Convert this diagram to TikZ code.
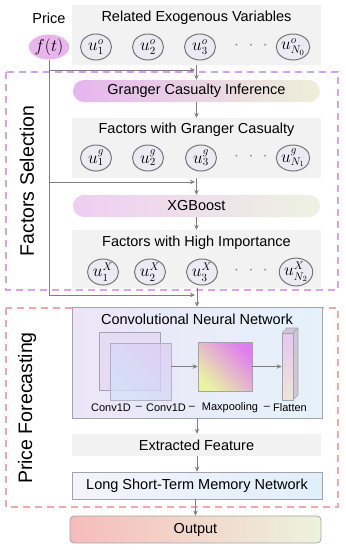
\documentclass[tikz,border=0pt]{standalone}
\usepackage{fontspec}
\setmainfont{Liberation Sans}
\usetikzlibrary{arrows.meta,shapes.geometric}
\definecolor{arrgray}{HTML}{7F7F7F}
\definecolor{boxgray}{HTML}{F2F2F2}
\definecolor{circfill}{HTML}{ECEBF3}
\definecolor{circline}{HTML}{767676}
\definecolor{selviolet}{HTML}{D9A2EC}
\definecolor{forered}{HTML}{EFA9A9}
\definecolor{ftpink}{HTML}{E8B6EC}
\definecolor{gcl}{HTML}{E6B5EF}
\definecolor{gcm}{HTML}{F3E4F2}
\definecolor{gcr}{HTML}{EDF0D9}
\definecolor{xgl}{HTML}{EFCDF2}
\definecolor{xgm}{HTML}{F4EAF3}
\definecolor{xgr}{HTML}{EEF2E2}
\definecolor{outl}{HTML}{F6BCBC}
\definecolor{outr}{HTML}{EDF3DD}
\definecolor{edgegray}{HTML}{A3A3AB}
\definecolor{cnnl}{HTML}{ECE5F8}
\definecolor{cnnr}{HTML}{E5F2FA}
\definecolor{lstml}{HTML}{F5F3FB}
\definecolor{lstmr}{HTML}{E0EFFA}
\definecolor{convA}{HTML}{E4D8F5}
\definecolor{convB}{HTML}{DDCDF4}
\definecolor{convC}{HTML}{CFE2F8}
\definecolor{mpA}{HTML}{E07EF0}
\definecolor{mpB}{HTML}{E9F4A2}
\definecolor{flA}{HTML}{E9C6F2}
\definecolor{flB}{HTML}{ECE6D6}
\definecolor{flS}{HTML}{CFC6D6}
\begin{document}
\begin{tikzpicture}[x=1pt,y=-1pt,
  font=\fontsize{14.5}{16}\selectfont,
  arr/.style={draw=arrgray, line width=0.8pt, -{Stealth[length=5pt,width=4.5pt]}},
  ln/.style={draw=arrgray, line width=0.8pt},
  graybox/.style={fill=boxgray, draw=none, minimum width=249pt, minimum height=#1, inner sep=0pt},
  uc/.style={ellipse, fill=circfill, draw=circline, line width=1pt, minimum width=31pt, minimum height=26pt, inner sep=0pt, font=\fontsize{16}{18}\selectfont},
  dotsn/.style={text=gray, font=\fontsize{16}{18}\selectfont},
  pill/.style={rounded corners=11pt, minimum width=247pt, minimum height=22pt, inner sep=0pt},
  sect/.style={dash pattern=on 7pt off 5pt, line width=1.3pt},
  small/.style={font=\fontsize{11}{12}\selectfont},
  sq/.style={draw=edgegray, line width=0.7pt, inner sep=0pt},
]
\useasboundingbox (0,0) rectangle (346,550);

% section frames
\draw[sect, draw=selviolet] (6,72) rectangle (338,290);
\draw[sect, draw=forered] (6,308) rectangle (338,507);
\node[rotate=90, font=\fontsize{19.5}{21}\selectfont] (fs) at (27,181) {Factors Selection};
\node[rotate=90, font=\fontsize{19.5}{21}\selectfont] (pf) at (27,408) {Price Forecasting};

% price
\node (price) at (49,18) {Price};
\node[ellipse, fill=ftpink, minimum width=31pt, minimum height=25pt, inner sep=0pt, font=\fontsize{16}{18}\selectfont] (f) at (49,47) {$f(t)$};

% exogenous
\node[graybox=60pt] (exo) at (196.5,35) {};
\node (exot) at (196.5,18) {Related Exogenous Variables};
\node[uc] (o1) at (96,47) {$u^{o}_{1}$};
\node[uc] (o2) at (148,47) {$u^{o}_{2}$};
\node[uc] (o3) at (200,47) {$u^{o}_{3}$};
\node[dotsn] (od) at (251,46) {$\cdot\,\,\cdot\,\,\cdot$};
\node[uc] (oN) at (293,47) {$u^{o}_{N_0}$};

% granger
\node[pill, left color=gcl, middle color=gcm, right color=gcr] (gci) at (196.5,91) {Granger Casualty Inference};

\node[graybox=60pt] (fg) at (196.5,148) {};
\node (fgt) at (196.5,130) {Factors with Granger Casualty};
\node[uc] (g1) at (96,158) {$u^{g}_{1}$};
\node[uc] (g2) at (148,158) {$u^{g}_{2}$};
\node[uc] (g3) at (201,158) {$u^{g}_{3}$};
\node[dotsn] (gd) at (251,157) {$\cdot\,\,\cdot\,\,\cdot$};
\node[uc] (gN) at (293,158) {$u^{g}_{N_1}$};

% xgboost
\node[pill, left color=xgl, middle color=xgm, right color=xgr] (xgb) at (196.5,206) {XGBoost};

\node[graybox=58pt] (fh) at (196.5,259) {};
\node (fht) at (196.5,243) {Factors with High Importance};
\node[uc] (x1) at (103,272) {$u^{X}_{1}$};
\node[uc] (x2) at (150,272) {$u^{X}_{2}$};
\node[uc] (x3) at (202,272) {$u^{X}_{3}$};
\node[dotsn] (xd) at (251,271) {$\cdot\,\,\cdot\,\,\cdot$};
\node[uc] (xN) at (296,272) {$u^{X}_{N_2}$};

% CNN
\node[draw=edgegray, line width=0.7pt, left color=cnnl, right color=cnnr, minimum width=250pt, minimum height=111pt, inner sep=0pt] (cnn) at (197,362.5) {};
\node (cnnt) at (197,319) {Convolutional Neural Network};
\node[sq, fill=convA, fill opacity=0.8, minimum width=61pt, minimum height=58pt] (c1) at (129.5,361) {};
\node[sq, top color=convB, bottom color=convC, shading angle=-45, opacity=0.75, minimum width=61pt, minimum height=57pt] (c2) at (140.5,371.5) {};
\node[sq, top color=mpA, bottom color=mpB, shading angle=-45, minimum width=54pt, minimum height=49pt] (mp) at (225,366.5) {};
% flatten prism
\fill[flS] (282,333) -- (287,328) -- (298,328) -- (298,395) -- (293,400) -- cycle;
\draw[edgegray, line width=0.6pt] (282,333) -- (287,328) -- (298,328) -- (298,395) -- (293,400);
\draw[edgegray, line width=0.6pt] (293,333) -- (298,328);
\node[sq, top color=flA, bottom color=flB, minimum width=11pt, minimum height=67pt] (fl) at (287.5,366.5) {};
\draw[arr] (c2.east |- mp.west) -- (mp.west);
\draw[arr] (mp.east) -- (fl.west |- mp.east);

\node[small] (l1) at (111,408) {Conv1D};
\node[small] (d1) at (139,408) {–};
\node[small] (l2) at (166,408) {Conv1D};
\node[small] (d2) at (192,408) {–};
\node[small] (l3) at (230,408) {Maxpooling};
\node[small] (d3) at (267,408) {–};
\node[small] (l4) at (290,408) {Flatten};

% extracted & LSTM & output
\node[graybox=22pt] (ef) at (196.5,445) {Extracted Feature};
\node[draw=edgegray, line width=0.7pt, left color=lstml, right color=lstmr, minimum width=250pt, minimum height=27pt, inner sep=0pt] (lstm) at (197,485.5) {Long Short-Term Memory Network};
\node[draw=edgegray, line width=0.8pt, rounded corners=4pt, left color=outl, right color=outr, minimum width=251pt, minimum height=27pt, inner sep=0pt] (out) at (195.5,529.5) {Output};

% connectors
\coordinate (b1) at (49,70);
\coordinate (b2) at (49,182);
\coordinate (b3) at (49,295);
\coordinate (e1) at (195,70);
\coordinate (e2) at (195,182);
\coordinate (e3) at (195,295);
\draw[ln] (f.south) -- (b3);
\draw[arr] (b1) -- (e1);
\draw[arr] (b2) -- (e2);
\draw[arr] (b3) -- (e3);
\draw[arr] (exo.south -| gci.north) -- (gci.north);
\draw[arr] (gci.south) -- (gci.south |- fg.north);
\draw[arr] (fg.south -| xgb.north) -- (xgb.north);
\draw[arr] (xgb.south) -- (xgb.south |- fh.north);
\draw[arr] (fh.south -| cnn.north) -- (cnn.north);
\draw[arr] (cnn.south) -- (cnn.south |- ef.north);
\draw[arr] (ef.south -| lstm.north) -- (lstm.north);
\draw[arr] (lstm.south -| out.north) -- (out.north);
\end{tikzpicture}
\end{document}
